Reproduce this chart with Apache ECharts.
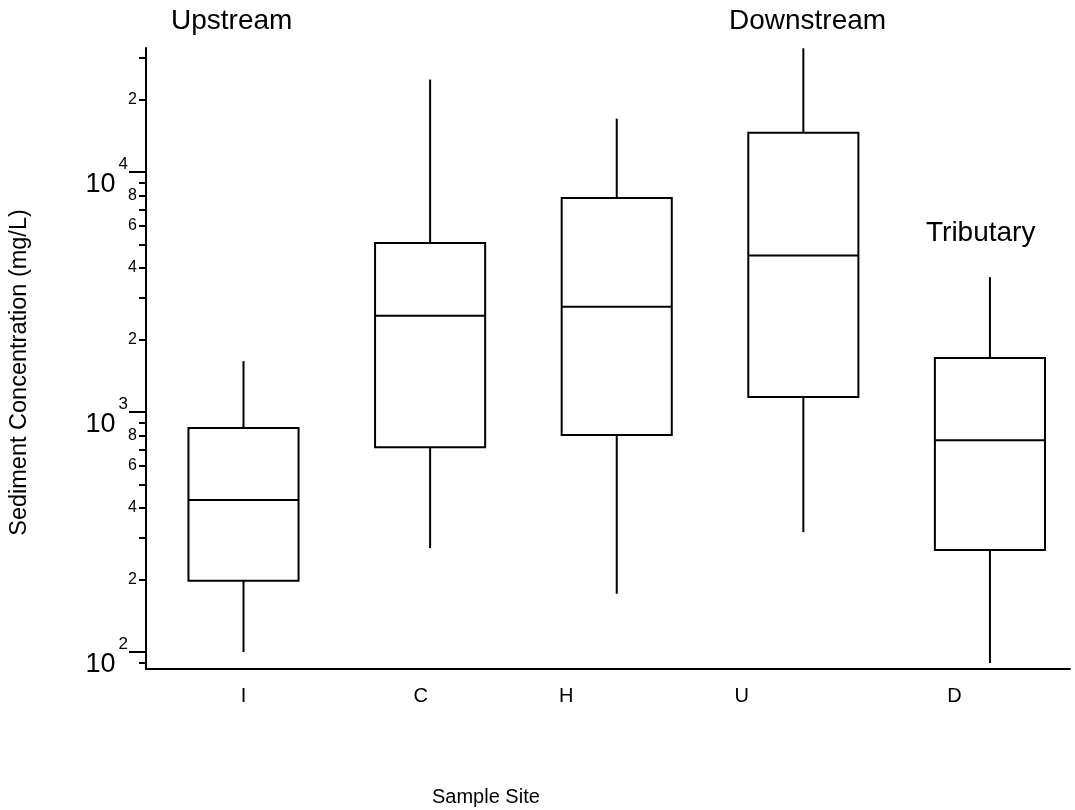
<!DOCTYPE html>
<html>
<head>
<meta charset="utf-8">
<script src="https://cdn.jsdelivr.net/npm/echarts@6/dist/echarts.min.js"></script>
<style>
  html, body { margin: 0; padding: 0; background: #fff; }
  #main { width: 1075px; height: 810px; }
</style>
</head>
<body>
<div id="main"></div>
<script>
// sediment concentration (mg/L) per sample site
const SITES = ['I', 'C', 'H', 'U', 'D']
const LOW = [100, 271, 175, 316, 90]
const Q1 = [198, 714, 802, 1155, 266]
const MEDIAN = [430, 2520, 2750, 4490, 764]
const Q3 = [858, 5060, 7800, 14600, 1680]
const HIGH = [1630, 24300, 16700, 32800, 3650]

// y axis ticks
const DECADES = [100, 1000, 10000]
const MINOR_TICKS = [90, 200, 300, 400, 500, 600, 700, 800, 900,
  2000, 3000, 4000, 5000, 6000, 7000, 8000, 9000, 20000, 30000]
const MINOR_LABELS = [200, 400, 600, 800, 2000, 4000, 6000, 8000, 20000]

// layout (axis units)
const X_MIN = -0.5225
const X_MAX = 4.429
const Y_MIN = 85
const Y_MAX = 32900
const BOX_WIDTH = 0.59
const LABEL_AT = [0, 0.95, 1.73, 2.67, 3.81]

const FONT = 'Liberation Sans, Arial, sans-serif'
const lg = (v) => Math.log10(v)

function renderBox(params, api) {
  const x = api.value(0)
  const pLo = api.coord([x, api.value(1)])
  const pQ1 = api.coord([x, api.value(2)])
  const pMed = api.coord([x, api.value(3)])
  const pQ3 = api.coord([x, api.value(4)])
  const pHi = api.coord([x, api.value(5)])
  const half = api.size([BOX_WIDTH, 0])[0] / 2
  const style = { stroke: '#000', lineWidth: 2, fill: null }
  return {
    type: 'group',
    children: [
      { type: 'line', shape: { x1: pHi[0], y1: pHi[1], x2: pQ3[0], y2: pQ3[1] }, style },
      { type: 'rect', shape: { x: pQ3[0] - half, y: pQ3[1], width: half * 2, height: pQ1[1] - pQ3[1] }, style },
      { type: 'line', shape: { x1: pMed[0] - half, y1: pMed[1], x2: pMed[0] + half, y2: pMed[1] }, style },
      { type: 'line', shape: { x1: pQ1[0], y1: pQ1[1], x2: pLo[0], y2: pLo[1] }, style },
    ],
  }
}

function main() {
  const chart = echarts.init(document.getElementById('main'))
  const data = SITES.map((name, i) => [i, lg(LOW[i]), lg(Q1[i]), lg(MEDIAN[i]), lg(Q3[i]), lg(HIGH[i])])

  const yBase = {
    type: 'value',
    position: 'left',
    min: lg(Y_MIN),
    max: lg(Y_MAX),
    splitLine: { show: false },
  }
  const titleStyle = { fontSize: 28, fontWeight: 'normal', fontFamily: FONT, color: '#000' }

  chart.setOption({
    animation: false,
    textStyle: { fontFamily: FONT, color: '#000' },
    title: [
      { text: 'Upstream', left: 166, top: 2, textStyle: titleStyle },
      { text: 'Downstream', left: 724, top: 2, textStyle: titleStyle },
      { text: 'Tributary', left: 921, top: 214, textStyle: titleStyle },
      {
        text: 'Sample Site', left: 427, top: 782,
        textStyle: { fontSize: 20, fontWeight: 'normal', fontFamily: FONT, color: '#000' },
      },
    ],
    grid: { left: 146, right: 5, top: 48, bottom: 141, containLabel: false },
    xAxis: {
      type: 'value',
      min: X_MIN,
      max: X_MAX,
      splitLine: { show: false },
      axisLine: { show: true, onZero: false, lineStyle: { color: '#000', width: 2 } },
      axisTick: { show: false },
      axisLabel: {
        customValues: LABEL_AT,
        formatter: (v) => SITES[LABEL_AT.indexOf(v)] || '',
        fontSize: 20,
        margin: 17,
        color: '#000',
        fontFamily: FONT,
      },
    },
    yAxis: [
      {
        ...yBase,
        axisLine: { show: true, onZero: false, lineStyle: { color: '#000', width: 2 } },
        axisTick: {
          show: true,
          length: 7,
          customValues: MINOR_TICKS.map(lg),
          lineStyle: { color: '#000', width: 2 },
        },
        axisLabel: {
          customValues: MINOR_LABELS.map(lg),
          formatter: (v) => String(Math.round(Math.pow(10, v - Math.floor(v + 1e-9)))),
          fontSize: 16,
          margin: 9,
          color: '#000',
          fontFamily: FONT,
        },
        name: 'Sediment Concentration (mg/L)',
        nameLocation: 'middle',
        nameGap: 114,
        nameTextStyle: { fontSize: 23.5, color: '#000', fontFamily: FONT, padding: [0, 28, 0, 0] },
      },
      {
        ...yBase,
        axisLine: { show: false, onZero: false },
        axisTick: {
          show: true,
          length: 17,
          customValues: DECADES.map(lg),
          lineStyle: { color: '#000', width: 2 },
        },
        axisLabel: {
          customValues: DECADES.map(lg),
          formatter: (v) => '{b|10}{e|' + Math.round(v) + '}',
          margin: 18,
          rich: {
            b: { fontSize: 27, fontFamily: FONT, color: '#000', padding: [24, 3, 0, 0] },
            e: { fontSize: 17, fontFamily: FONT, color: '#000', verticalAlign: 'top', padding: [9, 0, 0, 0] },
          },
        },
      },
    ],
    series: [
      {
        type: 'custom',
        renderItem: renderBox,
        encode: { x: 0, y: [1, 2, 3, 4, 5] },
        data,
        clip: false,
      },
    ],
  })
}

window.onload = main
</script>
</body>
</html>
